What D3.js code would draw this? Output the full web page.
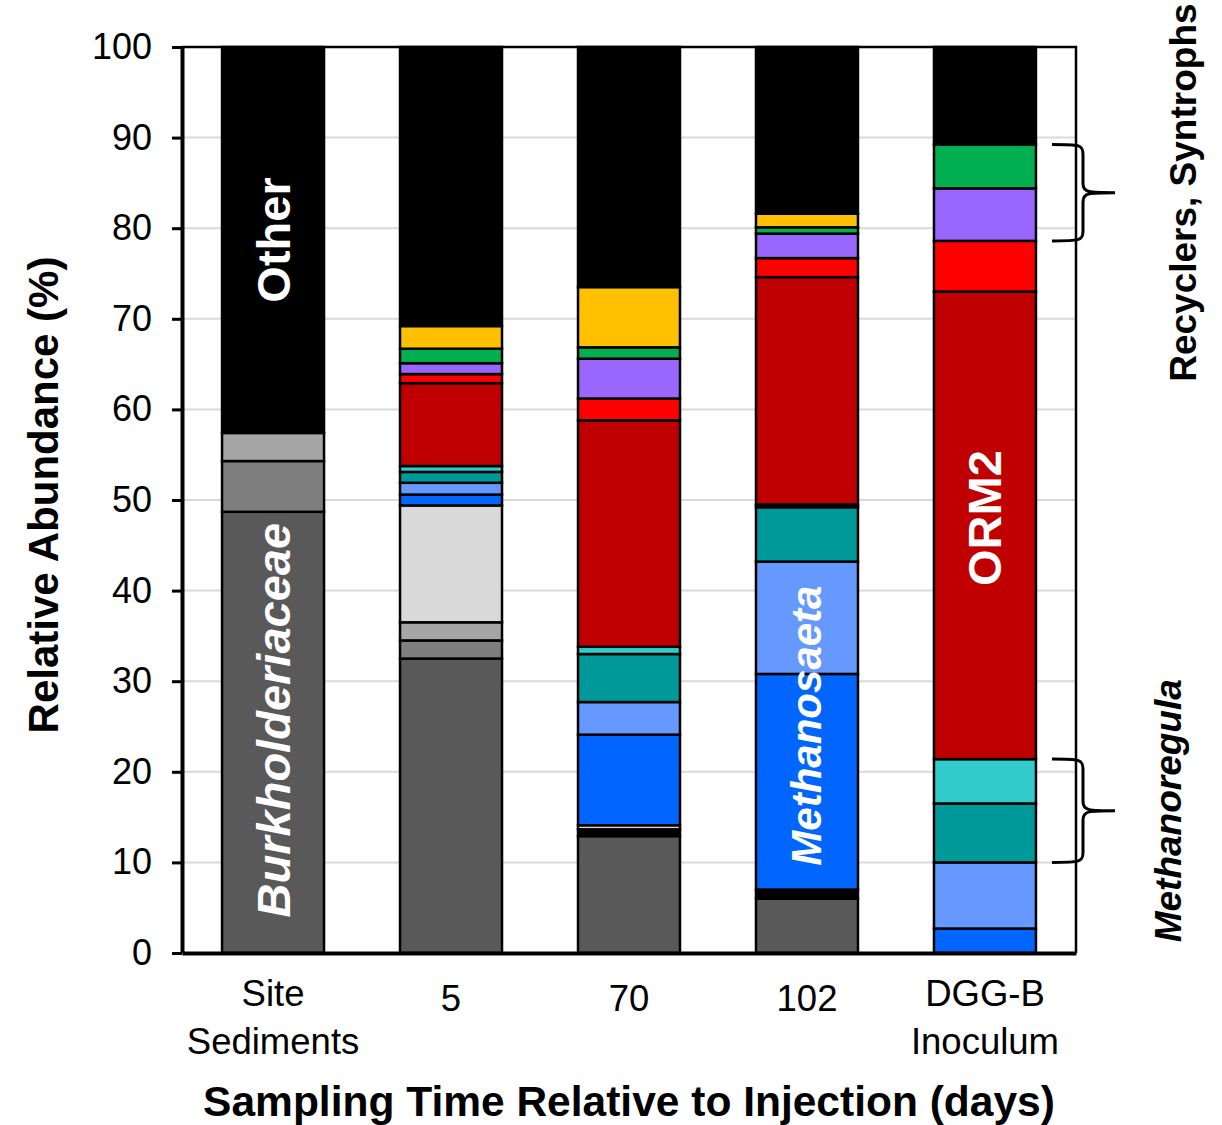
<!DOCTYPE html>
<html>
<head>
<meta charset="utf-8">
<script src="https://cdn.jsdelivr.net/npm/d3@7"></script>
<style>
  body { margin: 0; background: #fff; }
  svg { font-family: "Liberation Sans", Arial, sans-serif; }
</style>
</head>
<body>
<div id="chart"></div>
<script>
// Samples (x categories)
const samples = ["site", "d5", "d70", "d102", "dgg"];
const sampleLabels = [["Site", "Sediments"], ["5"], ["70"], ["102"], ["DGG-B", "Inoculum"]];

// Relative abundance (%) per taxon, one value per sample, bottom to top
const burkholderiaceae = [48.7, 32.5, 12.9, 6.0, 0];
const grayB = [5.6, 2.0, 0, 0, 0];
const grayC = [3.1, 2.0, 0, 0, 0];
const blackMinor = [0, 0, 0.75, 1.0, 0];
const grayD = [0, 12.9, 0.45, 0, 0];
const methanosaetaA = [0, 1.2, 10.0, 23.8, 2.7];
const methanosaetaB = [0, 1.3, 3.6, 12.4, 7.3];
const methanoregulaA = [0, 1.2, 5.3, 6.0, 6.5];
const methanoregulaB = [0, 0.65, 0.8, 0.3, 4.9];
const orm2 = [0, 9.15, 25.0, 25.1, 51.6];
const redTaxon = [0, 1.0, 2.4, 2.1, 5.6];
const purpleTaxon = [0, 1.2, 4.4, 2.7, 5.8];
const greenTaxon = [0, 1.6, 1.25, 0.7, 4.85];
const goldTaxon = [0, 2.5, 6.65, 1.5, 0];
const other = [42.6, 30.8, 26.5, 18.4, 10.75];

const yTicks = [0, 10, 20, 30, 40, 50, 60, 70, 80, 90, 100];

const series = [
    { key: "burkholderiaceae", values: burkholderiaceae, color: "#595959" },
    { key: "grayB", values: grayB, color: "#7f7f7f" },
    { key: "grayC", values: grayC, color: "#a6a6a6" },
    { key: "blackMinor", values: blackMinor, color: "#000000" },
    { key: "grayD", values: grayD, color: "#d9d9d9" },
    { key: "methanosaetaA", values: methanosaetaA, color: "#0066ff" },
    { key: "methanosaetaB", values: methanosaetaB, color: "#6699ff" },
    { key: "methanoregulaA", values: methanoregulaA, color: "#009999" },
    { key: "methanoregulaB", values: methanoregulaB, color: "#33cccc" },
    { key: "orm2", values: orm2, color: "#c00000" },
    { key: "redTaxon", values: redTaxon, color: "#ff0000" },
    { key: "purpleTaxon", values: purpleTaxon, color: "#9966ff" },
    { key: "greenTaxon", values: greenTaxon, color: "#00b050" },
    { key: "goldTaxon", values: goldTaxon, color: "#ffc000" },
    { key: "other", values: other, color: "#000000" }
];

// In-bar labels: sample, label position (%), text
const barLabels = [
    { sample: "site", at: 78.7, text: "Other", italic: false, size: 47 },
    { sample: "site", at: 25.7, text: "Burkholderiaceae", italic: true, size: 47 },
    { sample: "d102", at: 25.1, text: "Methanosaeta", italic: true, size: 42 },
    { sample: "dgg", at: 48.0, text: "ORM2", italic: false, size: 47 }
];

const W = 1222, H = 1125;
const margin = { top: 47, right: 146, bottom: 172, left: 182 };
const width = W - margin.left - margin.right;
const height = H - margin.top - margin.bottom;

const svg = d3.select("#chart").append("svg")
    .attr("width", W)
    .attr("height", H);

const g = svg.append("g")
    .attr("transform", `translate(${margin.left},${margin.top})`);

// Build table for stacking
const table = samples.map((s, i) => {
    const row = { sample: s };
    series.forEach(sr => { row[sr.key] = sr.values[i]; });
    return row;
});
const stacked = d3.stack().keys(series.map(s => s.key))(table);

const x = d3.scaleBand()
    .domain(samples)
    .range([0, width])
    .paddingInner(0.427)
    .paddingOuter(0.225);

const y = d3.scaleLinear()
    .domain([0, 100])
    .range([height, 0]);

// Gridlines
g.append("g")
    .selectAll("line")
    .data(yTicks.filter(t => t > 0 && t < 100))
    .join("line")
    .attr("x1", 0)
    .attr("x2", width)
    .attr("y1", d => y(d))
    .attr("y2", d => y(d))
    .attr("stroke", "#d9d9d9")
    .attr("stroke-width", 2);

// Bars
const colorOf = Object.fromEntries(series.map(s => [s.key, s.color]));
g.append("g")
    .selectAll("g")
    .data(stacked)
    .join("g")
    .attr("fill", d => colorOf[d.key])
    .selectAll("rect")
    .data(d => d.filter(p => p[1] - p[0] > 0))
    .join("rect")
    .attr("x", d => x(d.data.sample))
    .attr("y", d => y(d[1]))
    .attr("width", x.bandwidth())
    .attr("height", d => y(d[0]) - y(d[1]))
    .attr("stroke", "#000")
    .attr("stroke-width", 2.5);

// Frame: top and right borders
g.append("path")
    .attr("d", `M0,0H${width}V${height}`)
    .attr("fill", "none")
    .attr("stroke", "#000")
    .attr("stroke-width", 2.5);

// Y axis
const yAxis = g.append("g")
    .call(d3.axisLeft(y).tickValues(yTicks).tickSize(10).tickPadding(20).tickSizeOuter(0));
yAxis.select(".domain").attr("stroke-width", 4);
yAxis.selectAll(".tick line").attr("stroke-width", 3);
yAxis.selectAll(".tick text")
    .attr("font-size", 36)
    .attr("fill", "#000")
    .attr("font-family", "'Liberation Sans', Arial, sans-serif");

// X axis
const xAxis = g.append("g")
    .attr("transform", `translate(0,${height})`)
    .call(d3.axisBottom(x).tickSize(0).tickSizeOuter(0).tickFormat(""));
xAxis.select(".domain").attr("stroke-width", 4);
xAxis.selectAll(".tick").each(function (d, i) {
    const lines = sampleLabels[i];
    const t = d3.select(this).select("text")
        .attr("font-size", 36.5)
        .attr("fill", "#000")
        .attr("font-family", "'Liberation Sans', Arial, sans-serif")
        .attr("y", 0)
        .attr("dy", null);
    lines.forEach((ln, j) => {
        t.append("tspan")
            .attr("x", 0)
            .attr("y", lines.length === 1 ? 58 : 53 + j * 48)
            .text(ln);
    });
});

// In-bar labels
g.append("g")
    .selectAll("text")
    .data(barLabels)
    .join("text")
    .attr("transform", d => `translate(${x(d.sample) + x.bandwidth() / 2},${y(d.at)}) rotate(-90)`)
    .attr("text-anchor", "middle")
    .attr("dominant-baseline", "central")
    .attr("fill", "#fff")
    .attr("font-weight", "bold")
    .attr("font-style", d => d.italic ? "italic" : "normal")
    .attr("font-size", d => d.size)
    .text(d => d.text);

// Braces on the right, spanning DGG-B segments
const dgg = samples.indexOf("dgg");
const layer = k => stacked.find(s => s.key === k)[dgg];
const braces = [
    { top: layer("greenTaxon")[1], bottom: layer("purpleTaxon")[0], text: "Recyclers, Syntrophs", italic: false, dx: 107 },
    { top: layer("methanoregulaB")[1], bottom: layer("methanoregulaA")[0], text: "Methanoregula", italic: true, dx: 92 }
];

function bracePath(y0, y1) {
    const xa = width - 24, xv = width + 7, xt = width + 39;
    const ym = (y0 + y1) / 2;
    return `M${xa},${y0} C${xv - 4},${y0} ${xv},${y0} ${xv},${y0 + 10}` +
        ` L${xv},${ym - 9} C${xv},${ym} ${xv + 6},${ym} ${xt},${ym}` +
        ` C${xv + 6},${ym} ${xv},${ym} ${xv},${ym + 9}` +
        ` L${xv},${y1 - 10} C${xv},${y1} ${xv - 4},${y1} ${xa},${y1}`;
}

const br = g.append("g").selectAll("g").data(braces).join("g");
br.append("path")
    .attr("d", d => bracePath(y(d.top), y(d.bottom)))
    .attr("fill", "none")
    .attr("stroke", "#000")
    .attr("stroke-width", 3);
br.append("text")
    .attr("transform", d => `translate(${width + d.dx},${(y(d.top) + y(d.bottom)) / 2}) rotate(-90)`)
    .attr("text-anchor", "middle")
    .attr("dominant-baseline", "central")
    .attr("font-weight", "bold")
    .attr("font-style", d => d.italic ? "italic" : "normal")
    .attr("font-size", 37)
    .text(d => d.text);

// Axis titles
svg.append("text")
    .attr("transform", `translate(43,${margin.top + height / 2 - 5}) rotate(-90)`)
    .attr("text-anchor", "middle")
    .attr("dominant-baseline", "central")
    .attr("font-weight", "bold")
    .attr("font-size", 42)
    .text("Relative Abundance (%)");

svg.append("text")
    .attr("x", margin.left + width / 2)
    .attr("y", 1116)
    .attr("text-anchor", "middle")
    .attr("font-weight", "bold")
    .attr("font-size", 42.5)
    .text("Sampling Time Relative to Injection (days)");
</script>
</body>
</html>
